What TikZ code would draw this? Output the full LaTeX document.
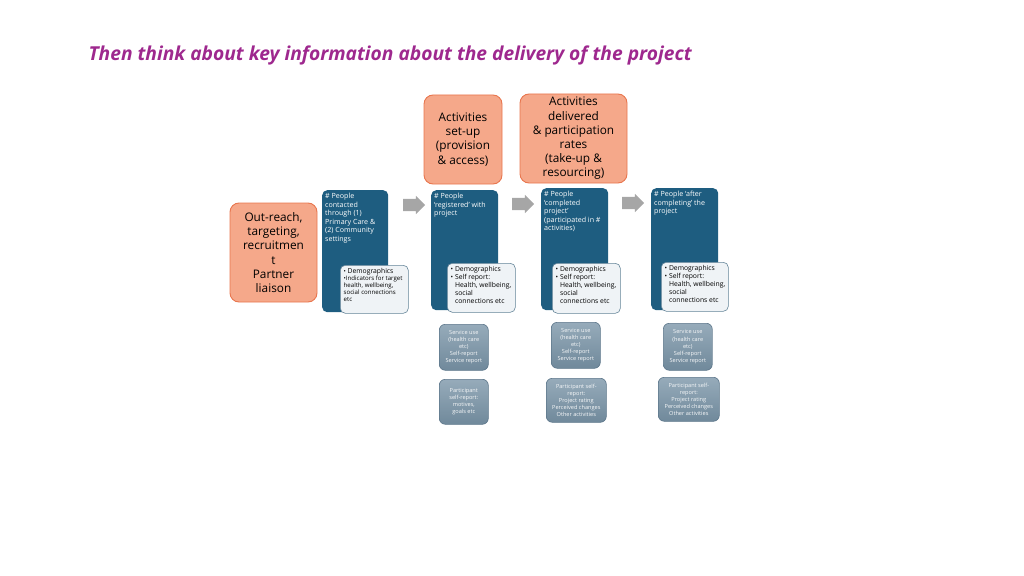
\documentclass[tikz,border=0pt]{standalone}
\usepackage{fontspec}
\setmainfont{Open Sans}
\usetikzlibrary{shapes.arrows}

\definecolor{titlepurple}{RGB}{158,40,142}
\definecolor{orangefill}{RGB}{245,168,138}
\definecolor{orangeline}{RGB}{232,118,78}
\definecolor{bluefill}{RGB}{30,93,128}
\definecolor{notefill}{RGB}{239,243,246}
\definecolor{noteline}{RGB}{100,132,152}
\definecolor{greytop}{RGB}{150,171,186}
\definecolor{greybottom}{RGB}{112,137,155}
\definecolor{greyline}{RGB}{92,118,138}
\definecolor{arrowgrey}{RGB}{166,166,166}

\begin{document}
\begin{tikzpicture}[x=1pt,y=-1pt,
	orangebox/.style={draw=orangeline,fill=orangefill,line width=0.9pt,rounded corners=9pt,
		align=center,inner sep=0pt,font=\fontsize{11.8}{14.2}\selectfont},
	bluebox/.style={fill=bluefill,rounded corners=5pt,inner sep=0pt,anchor=north west},
	bluetext/.style={text=white,align=left,anchor=north west,inner sep=3pt,
		font=\fontsize{7.1}{8.6}\selectfont},
	notebox/.style={draw=noteline,fill=notefill,line width=0.6pt,rounded corners=5pt,
		inner sep=0pt,anchor=north west},
	notetext/.style={align=left,anchor=north west,inner sep=3.5pt,
		font=\fontsize{6.8}{7.8}\selectfont},
	greybox/.style={draw=greyline,top color=greytop,bottom color=greybottom,line width=0.6pt,
		rounded corners=6pt,inner sep=0pt,anchor=north west},
	greytext/.style={text=white!92!greytop,align=center,inner sep=0pt,font=\fontsize{5.6}{7.1}\selectfont},
	greyarrow/.style={single arrow,fill=arrowgrey,minimum height=22pt,minimum width=0pt,
		single arrow head extend=3pt,inner xsep=0pt,inner ysep=6pt}]
	\useasboundingbox (0,0) rectangle (1024,575);

	% title
	\node[anchor=west,text=titlepurple,font=\fontsize{19.2}{22}\selectfont\bfseries\itshape] (title) at (85,55)
		{Then think about key information about the delivery of the project};

	% orange boxes
	\node[orangebox,minimum width=87pt,minimum height=99pt] (outreach) at (273.5,252.5)
		{Out-reach,\\targeting,\\recruitmen\\t\\Partner\\liaison};
	\node[orangebox,minimum width=78pt,minimum height=89pt] (setup) at (463,139.5)
		{Activities\\set-up\\(provision\\\& access)};
	\node[orangebox,minimum width=107pt,minimum height=89pt] (delivered) at (573.5,138.5)
		{Activities\\delivered\\\& participation\\rates\\(take-up \&\\resourcing)};

	% blue columns
	\node[bluebox,minimum width=66pt,minimum height=122pt] (contacted) at (322,190) {};
	\node[bluetext] at (contacted.north west) {\# People\\contacted\\through (1)\\Primary Care \&\\(2) Community\\settings};
	\node[bluebox,minimum width=67pt,minimum height=120pt] (registered) at (431,190) {};
	\node[bluetext] at (registered.north west) {\# People\\`registered' with\\project};
	\node[bluebox,minimum width=67pt,minimum height=122pt] (completed) at (541,188) {};
	\node[bluetext] at (completed.north west) {\# People\\`completed\\project'\\(participated in \#\\activities)};
	\node[bluebox,minimum width=67pt,minimum height=122pt] (after) at (651,188) {};
	\node[bluetext] at (after.north west) {\# People `after\\completing' the\\project};

	% arrows
	\node[greyarrow] (arr1) at (411,205) {};
	\node[greyarrow] (arr2) at (520,204) {};
	\node[greyarrow] (arr3) at (630,203) {};

	% notes
	\node[notebox,minimum width=68pt,minimum height=48pt] (note1) at (340,265) {};
	\node[notetext,font=\fontsize{6.1}{7}\selectfont] at (note1.north west)
		{\textbullet\ {\fontsize{6.8}{7}\selectfont Demographics}\\\textbullet Indicators for target\\health, wellbeing,\\social connections\\etc};
	\node[notebox,minimum width=68pt,minimum height=49pt] (note2) at (447,263) {};
	\node[notetext] at (note2.north west)
		{\textbullet\ Demographics\\\textbullet\ Self report:\\\hphantom{\textbullet\ }Health, wellbeing,\\\hphantom{\textbullet\ }social\\\hphantom{\textbullet\ }connections etc};
	\node[notebox,minimum width=68pt,minimum height=50pt] (note3) at (552,263) {};
	\node[notetext] at (note3.north west)
		{\textbullet\ Demographics\\\textbullet\ Self report:\\\hphantom{\textbullet\ }Health, wellbeing,\\\hphantom{\textbullet\ }social\\\hphantom{\textbullet\ }connections etc};
	\node[notebox,minimum width=67pt,minimum height=49pt] (note4) at (661,262) {};
	\node[notetext] at (note4.north west)
		{\textbullet\ Demographics\\\textbullet\ Self report:\\\hphantom{\textbullet\ }Health, wellbeing,\\\hphantom{\textbullet\ }social\\\hphantom{\textbullet\ }connections etc};

	% grey boxes
	\node[greybox,minimum width=49pt,minimum height=46pt] (use2) at (439,324) {};
	\node[greytext] at (use2.center) {Service use\\(health care\\etc)\\Self-report\\Service report};
	\node[greybox,minimum width=49pt,minimum height=45pt] (self2) at (439,379) {};
	\node[greytext] at (self2.center) {Participant\\self-report:\\motives,\\goals etc};
	\node[greybox,minimum width=49pt,minimum height=46pt] (use3) at (551,322) {};
	\node[greytext] at (use3.center) {Service use\\(health care\\etc)\\Self-report\\Service report};
	\node[greybox,minimum width=60pt,minimum height=44pt] (self3) at (546,378) {};
	\node[greytext] at (self3.center) {Participant self-\\report:\\Project rating\\Perceived changes\\Other activities};
	\node[greybox,minimum width=49pt,minimum height=47pt] (use4) at (663,323) {};
	\node[greytext] at (use4.center) {Service use\\(health care\\etc)\\Self-report\\Service report};
	\node[greybox,minimum width=61pt,minimum height=44pt] (self4) at (658,377) {};
	\node[greytext] at (self4.center) {Participant self-\\report:\\Project rating\\Perceived changes\\Other activities};
\end{tikzpicture}
\end{document}
